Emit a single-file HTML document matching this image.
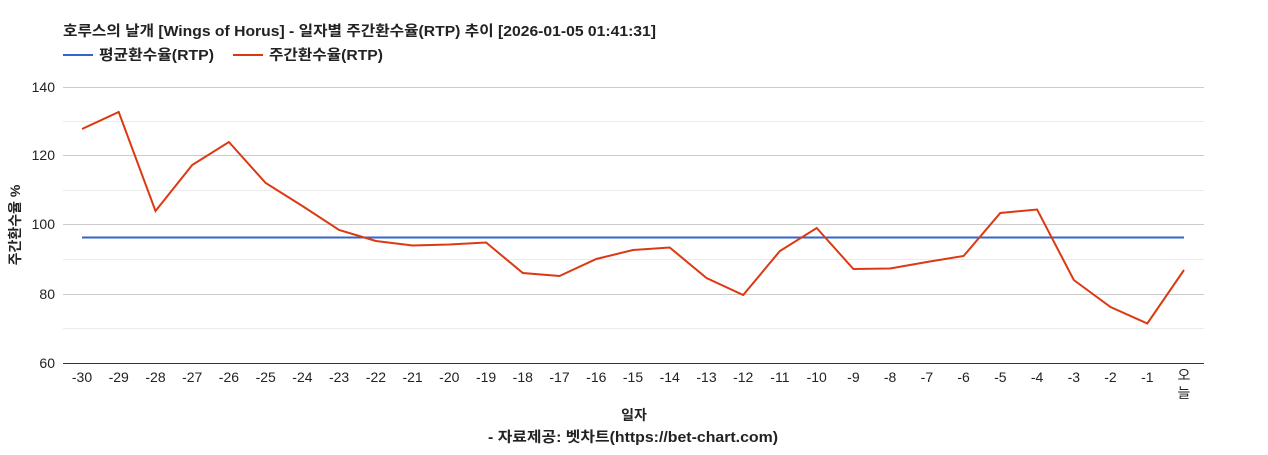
<!DOCTYPE html>
<html><head><meta charset="utf-8"><style>
body{margin:0;background:#fff;width:1268px;height:450px;overflow:hidden;font-family:"Liberation Sans","Noto Sans CJK KR",sans-serif}
</style></head><body>
<svg width="1268" height="450" xmlns="http://www.w3.org/2000/svg" font-family="Liberation Sans, Noto Sans CJK KR, sans-serif">
<text x="63" y="36" font-size="14.5" font-weight="bold" fill="#222" textLength="593" lengthAdjust="spacingAndGlyphs">호루스의 날개 [Wings of Horus] - 일자별 주간환수율(RTP) 추이 [2026-01-05 01:41:31]</text>
<line x1="63" y1="55" x2="93" y2="55" stroke="#3366cc" stroke-width="2"/>
<text x="99" y="60" font-size="14.5" font-weight="bold" fill="#222" textLength="115" lengthAdjust="spacingAndGlyphs">평균환수율(RTP)</text>
<line x1="233" y1="55" x2="263" y2="55" stroke="#dc3912" stroke-width="2"/>
<text x="269" y="60" font-size="14.5" font-weight="bold" fill="#222" textLength="114" lengthAdjust="spacingAndGlyphs">주간환수율(RTP)</text>
<g stroke="#ebebeb" stroke-width="1">
<line x1="63" y1="121.5" x2="1204" y2="121.5"/><line x1="63" y1="190.5" x2="1204" y2="190.5"/><line x1="63" y1="259.5" x2="1204" y2="259.5"/><line x1="63" y1="328.5" x2="1204" y2="328.5"/>
</g>
<g stroke="#ccc" stroke-width="1">
<line x1="63" y1="87.5" x2="1204" y2="87.5"/><line x1="63" y1="155.5" x2="1204" y2="155.5"/><line x1="63" y1="224.5" x2="1204" y2="224.5"/><line x1="63" y1="294.5" x2="1204" y2="294.5"/>
</g>
<line x1="63" y1="363.5" x2="1204" y2="363.5" stroke="#333"/>
<g font-size="14" fill="#222" text-anchor="end">
<text x="55" y="92">140</text><text x="55" y="160">120</text><text x="55" y="229">100</text><text x="55" y="299">80</text><text x="55" y="368">60</text>
</g>
<text transform="translate(20,225) rotate(-90)" font-size="14" font-weight="bold" fill="#222" text-anchor="middle">주간환수율 %</text>
<g font-size="14" fill="#222" text-anchor="middle">
<text x="82" y="382">-30</text><text x="118.7" y="382">-29</text><text x="155.5" y="382">-28</text><text x="192.2" y="382">-27</text><text x="228.9" y="382">-26</text><text x="265.7" y="382">-25</text><text x="302.4" y="382">-24</text><text x="339.1" y="382">-23</text><text x="375.9" y="382">-22</text><text x="412.6" y="382">-21</text><text x="449.3" y="382">-20</text><text x="486.1" y="382">-19</text><text x="522.8" y="382">-18</text><text x="559.5" y="382">-17</text><text x="596.3" y="382">-16</text><text x="633" y="382">-15</text><text x="669.7" y="382">-14</text><text x="706.5" y="382">-13</text><text x="743.2" y="382">-12</text><text x="779.9" y="382">-11</text><text x="816.7" y="382">-10</text><text x="853.4" y="382">-9</text><text x="890.1" y="382">-8</text><text x="926.9" y="382">-7</text><text x="963.6" y="382">-6</text><text x="1000.3" y="382">-5</text><text x="1037.1" y="382">-4</text><text x="1073.8" y="382">-3</text><text x="1110.5" y="382">-2</text><text x="1147.3" y="382">-1</text><text x="1184" y="380">오</text><text x="1184" y="398">늘</text>
</g>
<text x="634" y="420" font-size="14" font-weight="bold" fill="#222" text-anchor="middle">일자</text>
<text x="488" y="442" font-size="14.5" font-weight="bold" fill="#222" textLength="290" lengthAdjust="spacingAndGlyphs">- 자료제공: 벳차트(https://bet-chart.com)</text>
<line x1="82" y1="237.5" x2="1184" y2="237.5" stroke="#3366cc" stroke-width="2"/>
<polyline fill="none" stroke="#dc3912" stroke-width="2" points="82,129 118.7,112 155.5,211 192.2,165 228.9,142 265.7,183 302.4,206 339.1,230 375.9,241 412.6,245.5 449.3,244.5 486.1,242.5 522.8,273 559.5,276 596.3,259 633,250 669.7,247.5 706.5,278 743.2,295 779.9,251 816.7,228 853.4,269 890.1,268.5 926.9,262 963.6,256 1000.3,213 1037.1,209.5 1073.8,280 1110.5,307 1147.3,323.5 1184,270"/>
</svg>
</body></html>
